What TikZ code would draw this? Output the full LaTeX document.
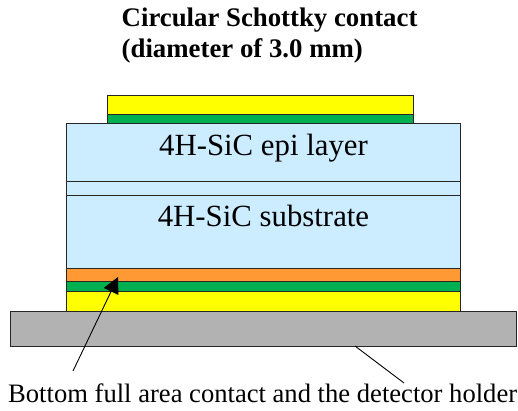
\documentclass[tikz,border=0pt]{standalone}
\usepackage{fontspec}
\setmainfont{Liberation Serif}
\usetikzlibrary{arrows.meta}
\definecolor{contactyellow}{RGB}{255,255,0}
\definecolor{contactgreen}{RGB}{0,176,80}
\definecolor{contactorange}{RGB}{255,153,51}
\definecolor{sicblue}{RGB}{204,236,255}
\definecolor{holdergray}{RGB}{178,178,178}
\begin{document}
\begin{tikzpicture}[x=1pt,y=-1pt,
	layer/.style={draw=black!85,line width=0.9pt,inner sep=0pt,outer sep=0pt,anchor=north west},
	layertext/.style={font=\fontsize{30.8}{30.8}\selectfont,inner sep=0pt,anchor=base},
	caption/.style={font=\fontsize{26.6}{26.6}\selectfont,inner sep=0pt,anchor=base west},
	boldcaption/.style={caption,font=\fontsize{26.8}{26.8}\selectfont\bfseries}]
	\useasboundingbox (0,0) rectangle (518,410);
	\node[layer,fill=contactyellow,minimum width=306.5pt,minimum height=19pt] (topgold) at (107,95) {};
	\node[layer,fill=contactgreen,minimum width=306.5pt,minimum height=9pt] (topmetal) at (107,114) {};
	\node[layer,fill=sicblue,minimum width=394.5pt,minimum height=58pt] (epi) at (66,123) {};
	\node[layer,fill=sicblue,minimum width=394.5pt,minimum height=14pt] (buffer) at (66,181) {};
	\node[layer,fill=sicblue,minimum width=394.5pt,minimum height=73pt] (substrate) at (66,195) {};
	\node[layer,fill=contactorange,minimum width=394pt,minimum height=13pt] (bottomorange) at (66.5,268) {};
	\node[layer,fill=contactgreen,minimum width=394pt,minimum height=10pt] (bottommetal) at (66.5,281) {};
	\node[layer,fill=contactyellow,minimum width=394pt,minimum height=20pt] (bottomgold) at (66.5,291) {};
	\node[layer,fill=holdergray,minimum width=506.5pt,minimum height=35pt] (holder) at (10,311) {};
	\node[layertext] (epitext) at (263.5,155) {4H-SiC epi layer};
	\node[layertext] (subtext) at (263.5,226.7) {4H-SiC substrate};
	\node[boldcaption] (title) at (121.5,26) {Circular Schottky contact};
	\node[boldcaption] (subtitle) at (121.5,57.5) {(diameter of 3.0 mm)};
	\node[caption] (bottomlabel) at (8,402.7) {Bottom full area contact and the detector holder};
	\coordinate (arrowtail) at (73,371);
	\coordinate (arrowtip) at (118,277);
	\coordinate (linetop) at (355,346);
	\coordinate (lineend) at (404,383);
	\draw[-{Triangle[length=16pt,width=16pt]},line width=0.9pt] (arrowtail) -- (arrowtip);
	\draw[line width=0.9pt] (linetop) -- (lineend);
\end{tikzpicture}
\end{document}
